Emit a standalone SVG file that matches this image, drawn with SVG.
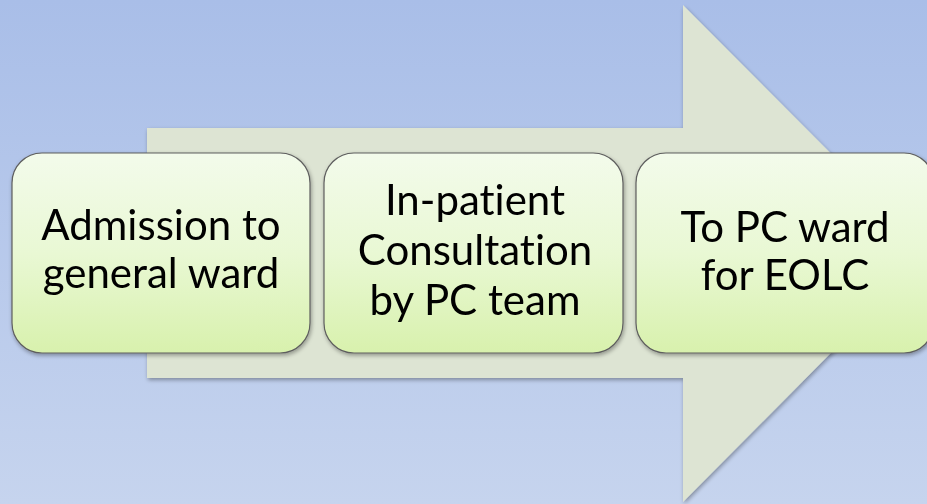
<svg xmlns="http://www.w3.org/2000/svg" width="927" height="504" viewBox="0 0 927 504">
<defs>
<linearGradient id="bg" x1="0" y1="0" x2="0" y2="1">
<stop offset="0" stop-color="#a9bee8"/>
<stop offset="1" stop-color="#c6d4ee"/>
</linearGradient>
<linearGradient id="box" x1="0" y1="0" x2="0" y2="1">
<stop offset="0" stop-color="#f3fbeb"/>
<stop offset="0.5" stop-color="#e9f8d4"/>
<stop offset="1" stop-color="#d8f1ad"/>
</linearGradient>
<filter id="sh" x="-10%" y="-10%" width="130%" height="130%">
<feGaussianBlur in="SourceAlpha" stdDeviation="2"/>
<feOffset dx="1" dy="2" result="b"/>
<feComponentTransfer><feFuncA type="linear" slope="0.35"/></feComponentTransfer>
<feMerge><feMergeNode/><feMergeNode in="SourceGraphic"/></feMerge>
</filter>
</defs>
<style>
.node rect { fill: url(#box); stroke: #5e5e5e; stroke-width: 1.2; }
.node text { font-family: Lato, "Open Sans", sans-serif; font-size: 42px; fill: #000; text-anchor: middle; font-variant-ligatures: none; }
</style>
<rect x="0" y="0" width="927" height="504" fill="url(#bg)"/>
<g id="arrow" filter="url(#sh)">
<polygon points="147,128 683,128 683,5 930,253 683,502 683,378 147,378" fill="#dde4d3"/>
</g>
<g id="connectors"></g>
<g id="node1" class="node" filter="url(#sh)">
<rect x="12" y="153" width="298" height="200" rx="30" ry="30"/>
<text x="161" y="240">Admission to</text>
<text x="161" y="288">general ward</text>
</g>
<g id="node2" class="node" filter="url(#sh)">
<rect x="324" y="153" width="299" height="200" rx="30" ry="30"/>
<text x="475" y="215">In-patient</text>
<text x="475" y="265">Consultation</text>
<text x="475" y="315">by PC team</text>
</g>
<g id="node3" class="node" filter="url(#sh)">
<rect x="636" y="153" width="298" height="200" rx="30" ry="30"/>
<text x="785" y="242">To PC ward</text>
<text x="785" y="290">for EOLC</text>
</g>
</svg>
